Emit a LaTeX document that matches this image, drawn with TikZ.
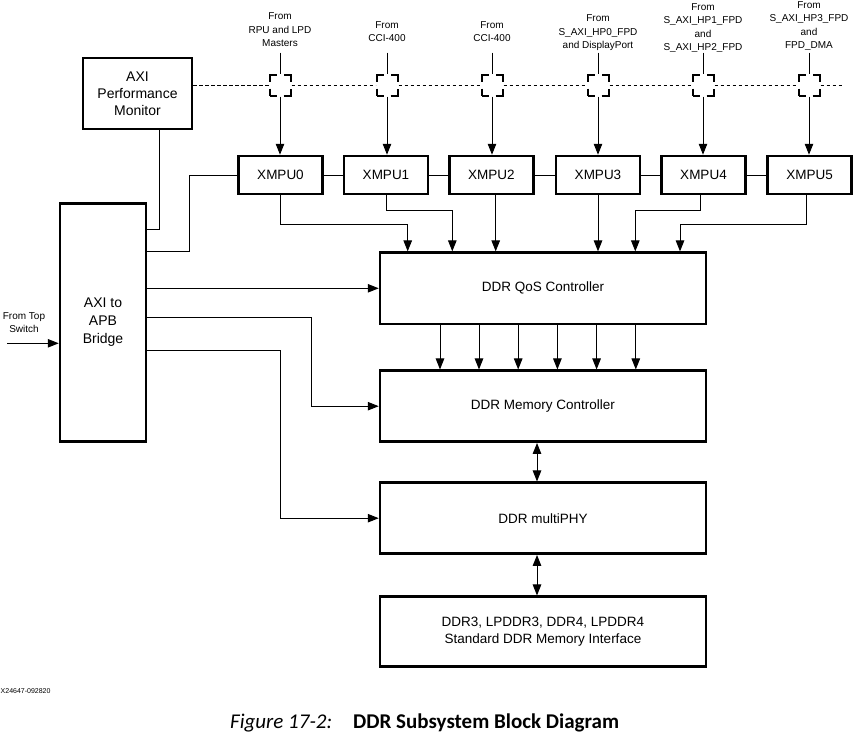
\documentclass[tikz,border=0pt]{standalone}
\usepackage{fontspec}
\setmainfont{Liberation Sans}
\newfontfamily\capfont{Carlito}
\usetikzlibrary{arrows.meta}
\begin{document}
\begin{tikzpicture}[x=1pt,y=-1pt,
  box/.style={draw, line width=2.5pt, inner sep=0pt, align=center, font=\fontsize{13.5}{17.5}\selectfont},
  con/.style={line width=1pt},
  arr/.style={con, -{Triangle[length=11pt,width=8.5pt]}},
  darr/.style={con, {Triangle[length=11pt,width=8.5pt]}-{Triangle[length=11pt,width=8.5pt]}},
  mux/.style={draw, line width=2pt, minimum size=21pt, inner sep=0pt, dash pattern=on 14pt off 7pt, dash phase=7pt},
  dline/.style={line width=0.8pt, dash pattern=on 3.5pt off 2.5pt},
  lbl/.style={font=\fontsize{10}{13.3}\selectfont, align=center, inner sep=0pt, text depth=0pt, anchor=south},
  ]
\useasboundingbox (0,0) rectangle (855,736);

% boxes
\node[box, minimum width=109pt, minimum height=71pt, font=\fontsize{14}{17}\selectfont] (mon) at (137.5,93.5) {AXI\\Performance\\Monitor};
\node[box, minimum width=86pt, minimum height=238pt, font=\fontsize{14}{18}\selectfont] (br) at (103,322.5) {AXI to\\APB\\Bridge};
\foreach \i/\x in {0/280.5,1/386,2/491.4,3/598,4/703.5,5/809.7}
  \node[box, minimum width=84pt, minimum height=38pt] (x\i) at (\x,175) {XMPU\i};
\foreach \i/\x in {0/280,1/387,2/492,3/598,4/703,5/809}
  \node[mux] (m\i) at (\x,85) {};
\node[box, minimum width=326pt, minimum height=71.3pt] (qos) at (543,288.3) {DDR QoS Controller};
\node[box, minimum width=326pt, minimum height=71pt] (mem) at (543,406.2) {DDR Memory Controller};
\node[box, minimum width=326pt, minimum height=71pt] (phy) at (543,518.2) {DDR multiPHY};
\node[box, minimum width=326pt, minimum height=70pt] (ifc) at (543,631.7) {DDR3, LPDDR3, DDR4, LPDDR4\\Standard DDR Memory Interface};

% labels
\node[lbl] (l0) at (280,46.6) {From\\RPU and LPD\\Masters};
\node[lbl] (l1) at (387,41.6) {From\\CCI-400};
\node[lbl] (l2) at (492,41.6) {From\\CCI-400};
\node[lbl] (l3) at (598,48.6) {From\\S\_AXI\_HP0\_FPD\\and DisplayPort};
\node[lbl] (l4) at (703,50.6) {From\\S\_AXI\_HP1\_FPD\\and\\S\_AXI\_HP2\_FPD};
\node[lbl] (l5) at (809,48.6) {From\\S\_AXI\_HP3\_FPD\\and\\FPD\_DMA};
\foreach \i/\x in {0/280,1/387,2/492,3/598,4/703,5/809}
  \coordinate (t\i) at (\x,52.5);
\foreach \i in {0,...,5}{
  \draw[con] (t\i) -- (m\i.north);
  \draw[arr] (m\i.south) -- (m\i.south |- x\i.north);
}

% dashed bus
\coordinate (dend) at (842,85);
\draw[dline] (mon.east |- m0.west) -- (m0.west);
\foreach \i/\j in {0/1,1/2,2/3,3/4,4/5}
  \draw[dline] (m\i.east) -- (m\j.west);
\draw[dline] (m5.east) -- (dend);

% XMPU chain
\foreach \i/\j in {0/1,1/2,2/3,3/4,4/5}
  \draw[con] (x\i.east) -- (x\j.west);

% bridge connections
\draw[con] (x0.west) -- (189.3,175) |- (br.east |- 0,251);
\draw[con] (mon.south -| 159.3,0) |- (br.east |- 0,229.3);
\draw[arr] (br.east |- qos.west) -- (qos.west);
\draw[arr] (br.east |- 0,317.3) -- (311.7,317.3) |- (mem.west);
\draw[arr] (br.east |- 0,350.3) -- (280.3,350.3) |- (phy.west);

% XMPU to QoS
\draw[arr] (x0.south) |- (407.7,224.3) -- (407.7,0 |- qos.north);
\draw[arr] (x1.south) |- (452.3,210) -- (452.3,0 |- qos.north);
\draw[arr] (x2.south -| 495.7,0) -- (495.7,0 |- qos.north);
\draw[arr] (x3.south) -- (x3.south |- qos.north);
\draw[arr] (x4.south -| 700.7,0) |- (635.3,210) -- (635.3,0 |- qos.north);
\draw[arr] (x5.south -| 806.7,0) |- (680,224) -- (680,0 |- qos.north);

% QoS to Memory
\foreach \x in {440,479,518.2,557.4,596.6,635.8}
  \draw[arr] (\x,0 |- qos.south) -- (\x,0 |- mem.north);

% bidirectional
\draw[darr] (537,0 |- mem.south) -- (537,0 |- phy.north);
\draw[darr] (537,0 |- phy.south) -- (537,0 |- ifc.north);

% input
\coordinate (in) at (7,343.3);
\draw[arr] (in) -- (br.west |- in);
\node[lbl] (ts) at (24,332.6) {From Top\\Switch};

% id and caption
\node[font=\fontsize{7}{8}\selectfont, anchor=west, inner sep=0pt] (id) at (0.5,691) {X24647-092820};
\node[anchor=base west, inner sep=0pt, font=\capfont\fontsize{21}{24}\selectfont] (cap) at (230,728) {\textit{Figure 17-2:}\hspace{21pt}\textbf{DDR Subsystem Block Diagram}};
\end{tikzpicture}
\end{document}
